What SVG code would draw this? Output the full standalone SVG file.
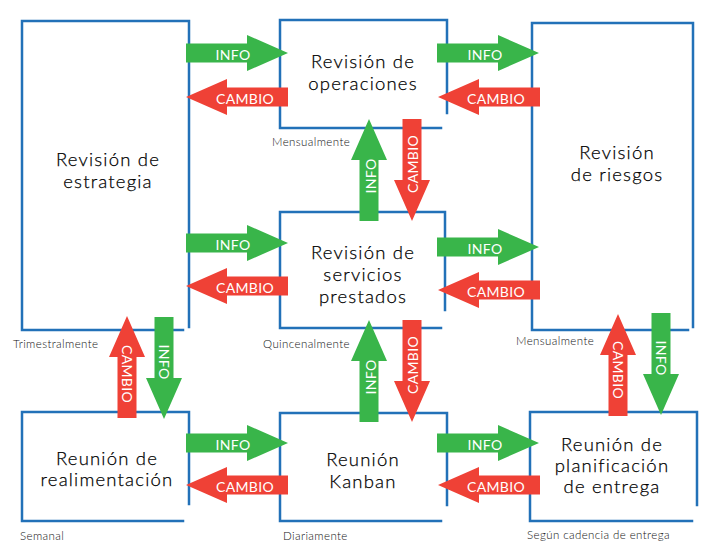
<svg xmlns="http://www.w3.org/2000/svg" xmlns:xlink="http://www.w3.org/1999/xlink" width="719" height="556" viewBox="0 0 719 556">
<style>
.box{fill:none;stroke:#2271b8;stroke-width:2.5;stroke-linecap:square}
.title{font-family:Lato,"Open Sans",sans-serif;font-size:18.5px;font-weight:300;fill:#000;stroke:#000;stroke-width:0.25;text-anchor:middle;letter-spacing:1.2px}
.freq{font-family:Lato,"Open Sans",sans-serif;font-size:11.5px;font-weight:300;fill:#111;letter-spacing:0.4px}
.info{fill:#39b54a}
.cambio{fill:#ef4136}
.lbl{font-family:Lato,"Open Sans",sans-serif;font-size:14px;fill:#fff;text-anchor:middle;dominant-baseline:central;letter-spacing:0.3px}
</style>
<defs>
<path id="arr" d="M0,-9.5 H61 V-18 L102,0 L61,18 V9.5 H0 Z"/>
</defs>
<rect width="719" height="556" fill="#fff"/>

<g id="n-estrategia">
<path class="box" d="M183,330 H22 V21 H189 V327"/>
<text class="title" x="108" y="166">Revisión de</text>
<text class="title" x="108" y="188">estrategia</text>
<text class="freq" x="13" y="348">Trimestralmente</text>
</g>
<g id="n-operaciones">
<path class="box" d="M441,128 H280 V20 H447 V113"/>
<text class="title" x="363" y="68">Revisión de</text>
<text class="title" x="363" y="90">operaciones</text>
<text class="freq" x="272" y="146">Mensualmente</text>
</g>
<g id="n-servicios">
<path class="box" d="M441,328 H280 V212 H445 V310"/>
<text class="title" x="363" y="259">Revisión de</text>
<text class="title" x="363" y="281">servicios</text>
<text class="title" x="363" y="303">prestados</text>
<text class="freq" x="263" y="348">Quincenalmente</text>
</g>
<g id="n-riesgos">
<path class="box" d="M688,330 H532 V23 H693 V327"/>
<text class="title" x="617" y="159">Revisión</text>
<text class="title" x="617" y="181">de riesgos</text>
<text class="freq" x="516" y="345">Mensualmente</text>
</g>
<g id="n-realimentacion">
<path class="box" d="M183,521 H22 V412 H189 V504"/>
<text class="title" x="107" y="465">Reunión de</text>
<text class="title" x="107" y="486">realimentación</text>
<text class="freq" x="20" y="540">Semanal</text>
</g>
<g id="n-kanban">
<path class="box" d="M441,521 H280 V413 H447 V505"/>
<text class="title" x="363" y="466">Reunión</text>
<text class="title" x="363" y="488">Kanban</text>
<text class="freq" x="283" y="540">Diariamente</text>
</g>
<g id="n-planificacion">
<path class="box" d="M692,521 H530 V412 H697 V505"/>
<text class="title" x="612" y="451">Reunión de</text>
<text class="title" x="612" y="472">planificación</text>
<text class="title" x="612" y="493">de entrega</text>
<text class="freq" x="527" y="539">Según cadencia de entrega</text>
</g>

<g id="connectors">
<use xlink:href="#arr" class="info" transform="translate(186,53)"/>
<text class="lbl" x="233" y="54">INFO</text>
<use xlink:href="#arr" class="cambio" transform="translate(288,97) rotate(180)"/>
<text class="lbl" x="245" y="98">CAMBIO</text>
<use xlink:href="#arr" class="info" transform="translate(437,53)"/>
<text class="lbl" x="485" y="54">INFO</text>
<use xlink:href="#arr" class="cambio" transform="translate(540,97) rotate(180)"/>
<text class="lbl" x="496" y="98">CAMBIO</text>
<use xlink:href="#arr" class="info" transform="translate(186,243)"/>
<text class="lbl" x="233" y="244">INFO</text>
<use xlink:href="#arr" class="cambio" transform="translate(288,286) rotate(180)"/>
<text class="lbl" x="245" y="287">CAMBIO</text>
<use xlink:href="#arr" class="info" transform="translate(437,247)"/>
<text class="lbl" x="485" y="248">INFO</text>
<use xlink:href="#arr" class="cambio" transform="translate(540,290) rotate(180)"/>
<text class="lbl" x="496" y="291">CAMBIO</text>
<use xlink:href="#arr" class="info" transform="translate(186,443)"/>
<text class="lbl" x="233" y="444">INFO</text>
<use xlink:href="#arr" class="cambio" transform="translate(288,485) rotate(180)"/>
<text class="lbl" x="245" y="486">CAMBIO</text>
<use xlink:href="#arr" class="info" transform="translate(437,443)"/>
<text class="lbl" x="485" y="444">INFO</text>
<use xlink:href="#arr" class="cambio" transform="translate(540,485) rotate(180)"/>
<text class="lbl" x="496" y="486">CAMBIO</text>
<use xlink:href="#arr" class="info" transform="translate(369,221) rotate(-90)"/>
<text class="lbl" transform="translate(370,176) rotate(-90)">INFO</text>
<use xlink:href="#arr" class="cambio" transform="translate(412,119) rotate(90)"/>
<text class="lbl" transform="translate(412,164) rotate(-90)">CAMBIO</text>
<use xlink:href="#arr" class="info" transform="translate(369,422) rotate(-90)"/>
<text class="lbl" transform="translate(370,377) rotate(-90)">INFO</text>
<use xlink:href="#arr" class="cambio" transform="translate(412,320) rotate(90)"/>
<text class="lbl" transform="translate(412,365) rotate(-90)">CAMBIO</text>
<use xlink:href="#arr" class="cambio" transform="translate(127,418) rotate(-90)"/>
<text class="lbl" transform="translate(127,374) rotate(90)">CAMBIO</text>
<use xlink:href="#arr" class="info" transform="translate(164,317) rotate(90)"/>
<text class="lbl" transform="translate(164,362) rotate(90)">INFO</text>
<use xlink:href="#arr" class="cambio" transform="translate(618,416) rotate(-90)"/>
<text class="lbl" transform="translate(618,370) rotate(90)">CAMBIO</text>
<use xlink:href="#arr" class="info" transform="translate(661,313) rotate(90)"/>
<text class="lbl" transform="translate(661,358) rotate(90)">INFO</text>
</g>
</svg>
